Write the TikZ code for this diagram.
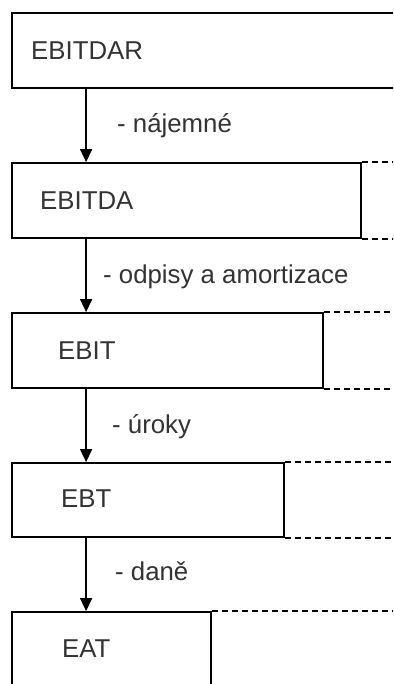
\documentclass[tikz,border=0pt]{standalone}
\usepackage{fontspec}
\setmainfont{Liberation Sans}
\usetikzlibrary{arrows.meta}
\begin{document}
\begin{tikzpicture}[x=1pt,y=-1pt,
  box/.style={draw=black, line width=1.8pt, rectangle, inner sep=0pt, fill=white},
  txt/.style={anchor=base west, inner sep=0pt, text=black!80, font=\fontsize{25.8}{30}\selectfont},
  arr/.style={line width=1.5pt, -{Triangle[width=12pt,length=13pt]}},
  dashline/.style={line width=1.3pt, dash pattern=on 6pt off 4pt}]
\clip (0,0) rectangle (393,684);
\fill[white] (0,0) rectangle (393,684);
% boxes
\node[box, minimum width=408pt, minimum height=75pt] (b1) at (216,50.5) {};
\node[box, minimum width=349pt, minimum height=75pt] (b2) at (186.5,200.5) {};
\node[box, minimum width=311pt, minimum height=75pt] (b3) at (167.5,350.5) {};
\node[box, minimum width=272pt, minimum height=74pt] (b4) at (148,500) {};
\node[box, minimum width=199pt, minimum height=88pt] (b5) at (111.5,656) {};
% box texts
\node[txt] (t1) at (31,60) {EBITDAR};
\node[txt] (t2) at (40,210) {EBITDA};
\node[txt] (t3) at (58,359) {EBIT};
\node[txt] (t4) at (61,507) {EBT};
\node[txt] (t5) at (62,657) {EAT};
% dashed extensions
\draw[dashline] (b2.north east) -- ++(60,0);
\draw[dashline] (b2.south east) -- ++(60,0);
\draw[dashline] (b3.north east) -- ++(90,0);
\draw[dashline] (b3.south east) -- ++(90,0);
\draw[dashline] (b4.north east) -- ++(120,0);
\draw[dashline] (b4.south east) -- ++(120,0);
\draw[dashline] (b5.north east) -- ++(190,0);
% arrows
\draw[arr] ([xshift=75pt]b1.south west) -- ([xshift=75pt]b2.north west);
\draw[arr] ([xshift=75pt]b2.south west) -- ([xshift=75pt]b3.north west);
\draw[arr] ([xshift=75pt]b3.south west) -- ([xshift=75pt]b4.north west);
\draw[arr] ([xshift=75pt]b4.south west) -- ([xshift=75pt]b5.north west);
% arrow labels
\node[txt] (l1) at (117,133) {- nájemné};
\node[txt] (l2) at (103,283) {- odpisy a amortizace};
\node[txt] (l3) at (112,433) {- úroky};
\node[txt] (l4) at (115,580) {- daně};
\end{tikzpicture}
\end{document}
